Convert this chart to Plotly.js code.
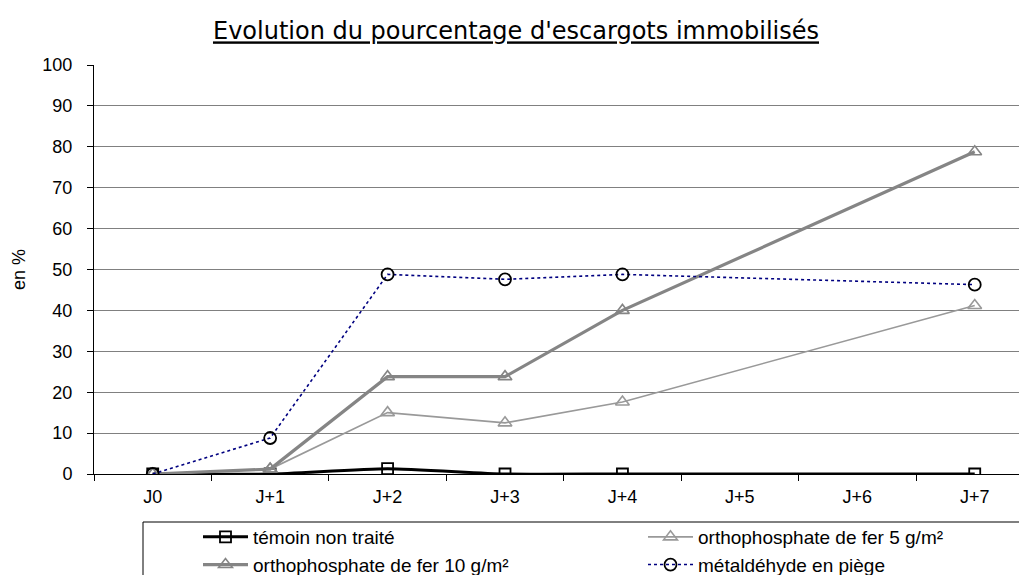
<!DOCTYPE html>
<html>
<head>
<meta charset="utf-8">
<script src="https://cdn.plot.ly/plotly-3.0.1.min.js"></script>
<style>
  html, body { margin: 0; padding: 0; background: #fff; }
  #chart { width: 1019px; height: 575px; }
</style>
</head>
<body>
<div id="chart"></div>
<script>
// ---- data ----
const days = ['J0', 'J+1', 'J+2', 'J+3', 'J+4', 'J+5', 'J+6', 'J+7'];
const temoin = [0, 0, 1.3, 0, 0, null, null, 0];
const ortho5 = [0, 1.2, 15, 12.5, 17.6, null, null, 41.2];
const ortho10 = [0, 1.2, 23.8, 23.8, 40, null, null, 78.8];
const metaldehyde = [0, 8.8, 48.8, 47.6, 48.8, null, null, 46.3];

const seriesNames = [
  'témoin non traité',
  'orthophosphate de fer 5 g/m²',
  'orthophosphate de fer 10 g/m²',
  'métaldéhyde en piège'
];
const yTicks = [0, 10, 20, 30, 40, 50, 60, 70, 80, 90, 100];

const FONT = 'Liberation Sans, Arial, sans-serif';

const traces = [
  {
    x: days, y: temoin, name: seriesNames[0], type: 'scatter', mode: 'lines+markers',
    connectgaps: true,
    line: { color: '#000000', width: 3, shape: 'spline', smoothing: 0.6 },
    marker: { symbol: 'square-open', size: 11, color: '#000000', line: { width: 1.8, color: '#000000' } }
  },
  {
    x: days, y: ortho5, name: seriesNames[1], type: 'scatter', mode: 'lines+markers',
    connectgaps: true,
    line: { color: '#999999', width: 1.6 },
    marker: { symbol: 'triangle-up-open', size: 12, color: '#999999', line: { width: 1.6, color: '#999999' } }
  },
  {
    x: days, y: ortho10, name: seriesNames[2], type: 'scatter', mode: 'lines+markers',
    connectgaps: true,
    line: { color: '#858585', width: 3.2 },
    marker: { symbol: 'triangle-up-open', size: 12, color: '#858585', line: { width: 1.6, color: '#858585' } }
  },
  {
    x: days, y: metaldehyde, name: seriesNames[3], type: 'scatter', mode: 'lines+markers',
    connectgaps: true,
    line: { color: '#000080', width: 1.6, dash: 'dot' },
    marker: { symbol: 'circle-open', size: 12, color: '#000000', line: { width: 1.8, color: '#000000' } }
  }
];

const L = 94, T = 65, PW = 1019 - 94, PH = 409;
const layout = {
  width: 1019, height: 575,
  margin: { l: L, r: 0, t: T, b: 575 - T - PH, pad: 0, autoexpand: false },
  paper_bgcolor: '#ffffff',
  plot_bgcolor: '#ffffff',
  font: { family: FONT, size: 18, color: '#000000' },
  title: {
    text: "<u>Evolution du pourcentage d'escargots immobilisés</u>",
    font: { family: 'DejaVu Sans, sans-serif', size: 24, color: '#000000' },
    x: 516 / 1019, xref: 'container', xanchor: 'center',
    y: 1 - 31 / 575, yref: 'container', yanchor: 'middle'
  },
  xaxis: {
    type: 'category',
    categoryorder: 'array', categoryarray: days,
    range: [-0.5, 7.377],
    showgrid: false, zeroline: false,
    showline: true, linecolor: '#000000', linewidth: 1,
    ticks: 'outside', tickson: 'boundaries', ticklen: 6, tickcolor: '#000000', tickwidth: 1,
    ticklabelstandoff: 6,
    tickfont: { family: FONT, size: 18, color: '#000000' },
    fixedrange: true
  },
  yaxis: {
    range: [0, 100],
    tickvals: yTicks, ticktext: yTicks.map(String),
    showgrid: true, gridcolor: '#808080', gridwidth: 1,
    zeroline: false,
    showline: true, linecolor: '#000000', linewidth: 1,
    ticks: 'outside', ticklen: 6, tickcolor: '#000000', tickwidth: 1,
    ticklabelstandoff: 11,
    tickfont: { family: FONT, size: 18, color: '#000000' },
    title: { text: 'en %', font: { family: FONT, size: 18, color: '#000000' }, standoff: 12 },
    fixedrange: true
  },
  showlegend: true,
  legend: {
    orientation: 'h',
    x: (198 - L) / PW, xanchor: 'left',
    y: (T + PH - 518) / PH, yanchor: 'top', yref: 'paper',
    bgcolor: 'rgba(0,0,0,0)', borderwidth: 0,
    font: { family: FONT, size: 19, color: '#000000' },
    entrywidth: 385, entrywidthmode: 'pixels',
    itemwidth: 45,
    tracegroupgap: 0,
    traceorder: 'normal'
  },
  shapes: [
    {
      type: 'rect', xref: 'paper', yref: 'paper', layer: 'above',
      x0: (143 - L) / PW, x1: 1.05,
      y0: (T + PH - 522) / PH, y1: (T + PH - 620) / PH,
      line: { color: '#000000', width: 1 }, fillcolor: 'rgba(0,0,0,0)'
    }
  ]
};

Plotly.newPlot('chart', traces, layout, { staticPlot: true, displayModeBar: false });
</script>
</body>
</html>
